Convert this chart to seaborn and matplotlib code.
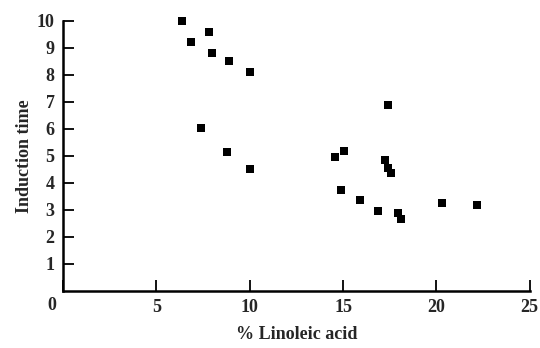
import pandas as pd
import matplotlib.pyplot as plt
import seaborn as sns

# Values
linoleic = [6.35, 6.85, 7.8, 8.0, 8.9, 10.0, 7.4, 8.8, 10.0,
            17.4, 15.05, 14.55, 17.25, 17.4, 17.55,
            14.9, 15.9, 16.85, 17.95, 18.1, 20.3, 22.2]
induction = [10.0, 9.2, 9.6, 8.8, 8.5, 8.1, 6.05, 5.15, 4.5,
             6.9, 5.2, 4.95, 4.85, 4.55, 4.37,
             3.75, 3.37, 2.95, 2.87, 2.67, 3.27, 3.17]

x_ticks = [0, 5, 10, 15, 20, 25]
y_ticks = [1, 2, 3, 4, 5, 6, 7, 8, 9, 10]

df = pd.DataFrame({"Linoleic": linoleic, "Induction": induction})

sns.set_style("white")
plt.rcParams["font.family"] = ["Liberation Serif", "DejaVu Serif"]
plt.rcParams["font.weight"] = "bold"

fig = plt.figure(figsize=(5.4, 3.48), dpi=100)
ax = fig.add_axes([0.1167, 0.164, 0.8643, 0.776])

sns.scatterplot(data=df, x="Linoleic", y="Induction", marker="s", s=32,
                color="black", edgecolor="black", linewidth=0, ax=ax)
for coll in ax.collections:
    coll.set_clip_on(False)

ax.set_xlim(0, 25)
ax.set_ylim(0, 10)
ax.set_xticks(x_ticks)
ax.set_yticks(y_ticks)
ax.set_xticklabels([str(t) for t in x_ticks], fontsize=13, fontweight="bold")
ax.set_yticklabels([str(t) for t in y_ticks], fontsize=13, fontweight="bold")
ax.tick_params(axis="both", direction="in", length=8, width=1.3, color="black",
               bottom=True, left=True, pad=6)

# Put the "0" at the corner like the original
ax.text(-0.6, -0.55, "0", fontsize=13, fontweight="bold", ha="center", va="center")
ax.get_xticklabels()[0].set_visible(False)

for side in ["top", "right"]:
    ax.spines[side].set_visible(False)
for side in ["left", "bottom"]:
    ax.spines[side].set_color("black")
    ax.spines[side].set_linewidth(1.8)

ax.set_xlabel("% Linoleic acid", fontsize=13, fontweight="bold", labelpad=7)
ax.set_ylabel("Induction time", fontsize=13, fontweight="bold", labelpad=3)

fig.savefig("out.png", dpi=100)
plt.close(fig)
